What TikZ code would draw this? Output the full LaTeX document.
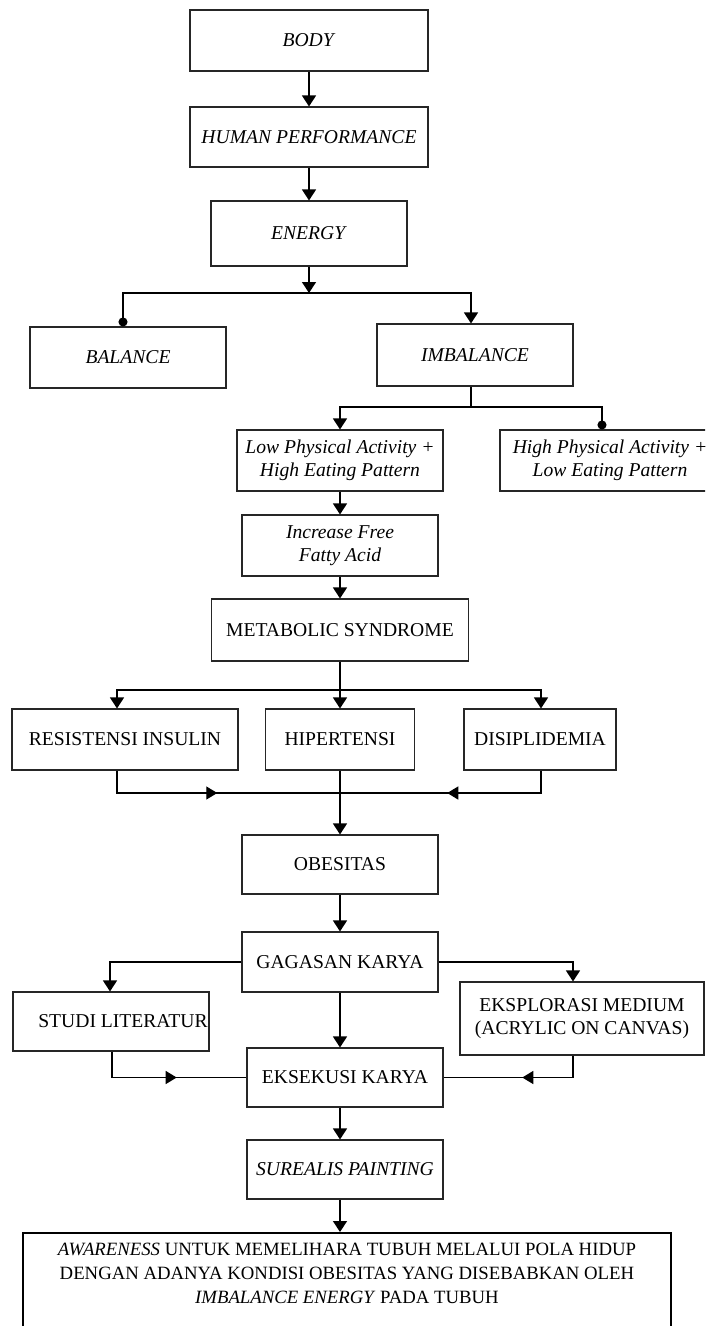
\documentclass[tikz,border=0pt]{standalone}
\usepackage{fontspec}
\setmainfont{Liberation Serif}
\usetikzlibrary{arrows.meta,decorations.markings}
\begin{document}
\begin{tikzpicture}[x=1pt,y=-1pt,
  box/.style={draw=black!85, line width=1.1pt, inner sep=0pt, align=center,
    font=\fontsize{19.6}{23.5}\selectfont},
  conn/.style={line width=1.3pt, draw=black},
  arr/.style={conn, -{Triangle[length=11pt,width=14pt]}},
  dotend/.style={conn, -{Circle[length=9pt]}},
  midarr/.style={conn, postaction={decorate},
    decoration={markings, mark=at position #1 with {\arrow{Triangle[length=11pt,width=13pt]}}}},
]
\useasboundingbox (0,0) rectangle (705,1326);
\clip (0,0) rectangle (705,1326);

% nodes
\node[box, minimum width=238pt, minimum height=61pt] (body) at (309,40.5) {\textit{BODY}};
\node[box, minimum width=238pt, minimum height=60pt] (hp) at (309,137) {\textit{HUMAN PERFORMANCE}};
\node[box, minimum width=196pt, minimum height=65pt] (en) at (309,233.5) {\textit{ENERGY}};
\node[box, minimum width=196pt, minimum height=61pt] (bal) at (128,357.5) {\textit{BALANCE}};
\node[box, minimum width=196pt, minimum height=62pt] (imb) at (475,355) {\textit{IMBALANCE}};
\node[box, minimum width=206pt, minimum height=61pt] (low) at (340,460.5) {\textit{Low Physical Activity +}\\\textit{High Eating Pattern}};
\node[box, minimum width=220pt, minimum height=61pt] (high) at (610,460.5) {\textit{High Physical Activity +}\\\textit{Low Eating Pattern}};
\node[box, minimum width=196pt, minimum height=61pt] (inc) at (340,545.5) {\textit{Increase Free}\\\textit{Fatty Acid}};
\node[box, minimum width=257pt, minimum height=62pt] (met) at (340,630) {METABOLIC SYNDROME};
\node[box, minimum width=226pt, minimum height=61pt] (res) at (125,739.5) {RESISTENSI INSULIN};
\node[box, minimum width=149pt, minimum height=61pt] (hip) at (340,739.5) {HIPERTENSI};
\node[box, minimum width=152pt, minimum height=61pt] (dis) at (540,739.5) {DISIPLIDEMIA};
\node[box, minimum width=196pt, minimum height=59pt] (obe) at (340,864.5) {OBESITAS};
\node[box, minimum width=196pt, minimum height=60pt] (gag) at (340,962) {GAGASAN KARYA};
\node[box, minimum width=196pt, minimum height=59pt] (stu) at (111,1021.5) {\hspace*{24pt}STUDI LITERATUR};
\node[box, minimum width=244pt, minimum height=73pt] (exp) at (582,1018.5) {EKSPLORASI MEDIUM\\(ACRYLIC ON CANVAS)};
\node[box, minimum width=196pt, minimum height=59pt] (eks) at (345,1077.5) {EKSEKUSI KARYA};
\node[box, minimum width=196pt, minimum height=59pt] (sur) at (345,1169.5) {\textit{SUREALIS PAINTING}};
\node[draw=black, line width=1.9pt, minimum width=648pt, minimum height=130pt, anchor=north, inner sep=0pt] (awa) at (347,1232) {};
\node[align=center, inner sep=0pt, font=\fontsize{18.75}{24}\selectfont] (awatxt) at (347,1273)
  {\textit{AWARENESS} UNTUK MEMELIHARA TUBUH MELALUI POLA HIDUP\\
   DENGAN ADANYA KONDISI OBESITAS YANG DISEBABKAN OLEH\\
   \textit{IMBALANCE ENERGY} PADA TUBUH};

% coordinates
\coordinate (j1) at (309,293);
\coordinate (j2) at (471,407);
\coordinate (j3) at (340,690);
\coordinate (m1) at (340,793);

% connectors
\draw[arr] (body) -- (hp);
\draw[arr] (hp) -- (en);
\draw[arr] (en) -- (j1);
\draw[dotend] (j1) -| ([xshift=-5pt]bal.north);
\draw[arr] (j1) -| ([xshift=-4pt]imb.north);
\draw[conn] ([xshift=-4pt]imb.south) -- (j2);
\draw[arr] (j2) -| (low.north);
\draw[dotend] (j2) -| ([xshift=-8pt]high.north);
\draw[arr] (low) -- (inc);
\draw[arr] (inc) -- (met);
\draw[conn] (met) -- (j3);
\draw[arr] (j3) -| ([xshift=-8pt]res.north);
\draw[arr] (j3) -- (hip);
\draw[arr] (j3) -| ([xshift=1pt]dis.north);
\draw[arr] (hip) -- (obe);
\draw[midarr=0.5] ([xshift=-8pt]res.south) |- (m1);
\draw[midarr=0.52] ([xshift=1pt]dis.south) |- (m1);
\draw[arr] (obe) -- (gag);
\draw[arr] (gag.west) -| ([xshift=-1pt]stu.north);
\draw[arr] (gag.east) -| ([xshift=-9pt]exp.north);
\draw[arr] (gag.south) -- (gag.south |- eks.north);
\draw[midarr=0.565] ([xshift=1pt]stu.south) |- (eks.west);
\draw[midarr=0.48] ([xshift=-9pt]exp.south) |- (eks.east);
\draw[arr] ([xshift=-5pt]eks.south) -- ([xshift=-5pt]sur.north);
\draw[arr] ([xshift=-5pt]sur.south) -- ([xshift=-7pt]awa.north);
\end{tikzpicture}
\end{document}
